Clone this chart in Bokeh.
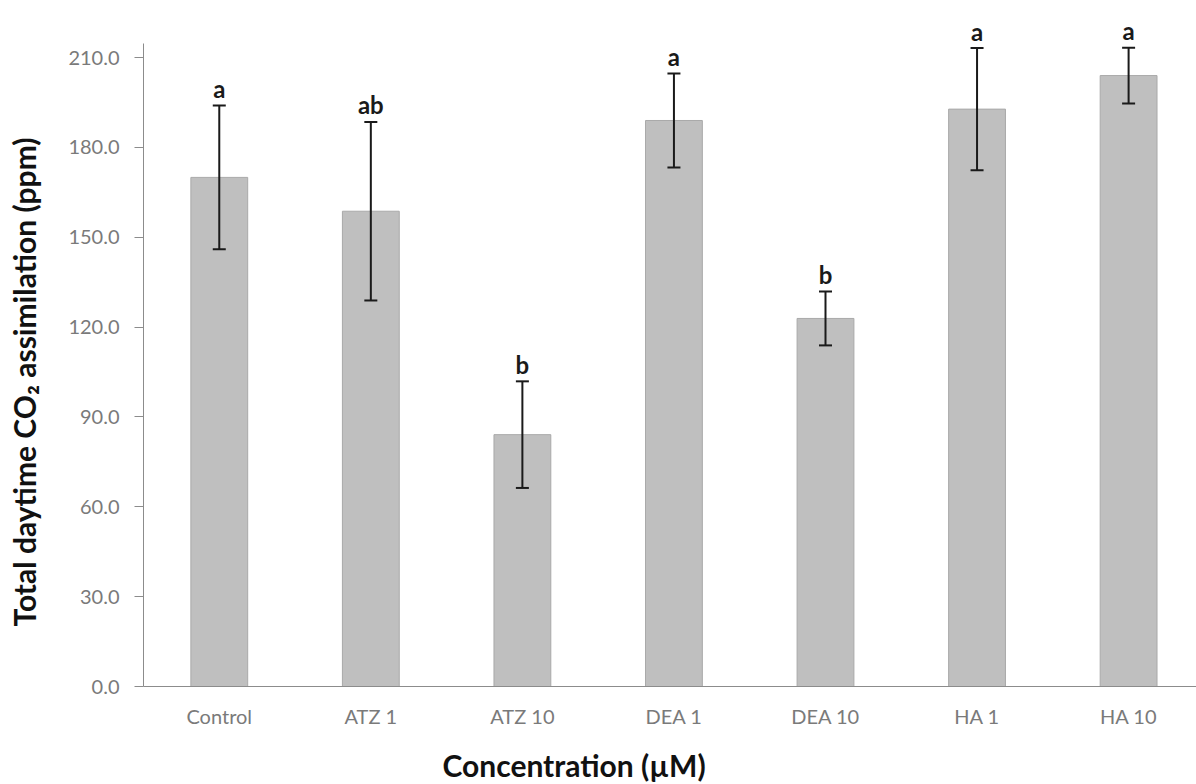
from bokeh.plotting import figure
from bokeh.models import (ColumnDataSource, Whisker, TeeHead, NumeralTickFormatter,
                          FixedTicker, Range1d, Title, LinearAxis)
from bokeh.core.properties import value
from bokeh.embed import file_html
from bokeh.resources import INLINE

categories = ["Control", "ATZ 1", "ATZ 10", "DEA 1", "DEA 10", "HA 1", "HA 10"]
means = [170.0, 158.7, 84.1, 189.0, 122.9, 192.8, 204.0]
errors = [24.0, 29.8, 17.8, 15.7, 9.0, 20.4, 9.3]
letters = ["a", "ab", "b", "a", "b", "a", "a"]
y_ticks = [0, 30, 60, 90, 120, 150, 180, 210]
axis_top = 214.7

x = [i + 0.5 for i in range(len(categories))]
upper = [m + e for m, e in zip(means, errors)]
lower = [m - e for m, e in zip(means, errors)]

src = ColumnDataSource(dict(x=x, mean=means, upper=upper, lower=lower, letter=letters))

p = figure(width=1196, height=784, output_backend="svg", toolbar_location=None,
           x_range=Range1d(0, 6.948), y_range=Range1d(0, 228.4),
           min_border_left=143, min_border_right=0, min_border_top=2,
           min_border_bottom=98)
p.outline_line_color = None
p.grid.visible = False
p.background_fill_color = "white"

p.vbar(x="x", top="mean", width=0.375, source=src, fill_color="#bfbfbf",
       line_color="#a9a9a9", line_width=1)

w = Whisker(base="x", upper="upper", lower="lower", source=src,
            line_color="#1a1a1a", line_width=2, level="overlay")
w.upper_head = TeeHead(size=13, line_color="#1a1a1a", line_width=2)
w.lower_head = TeeHead(size=13, line_color="#1a1a1a", line_width=2)
p.add_layout(w)

p.text(x="x", y="upper", text="letter", source=src, text_align="center",
       text_baseline="alphabetic", y_offset=-17, text_font=value("Lato"),
       text_font_style="bold", text_font_size="24px", text_color="#1a1a1a")

# y axis
yax = p.yaxis[0]
yax.bounds = (0, axis_top)
yax.ticker = FixedTicker(ticks=y_ticks)
yax.formatter = NumeralTickFormatter(format="0.0")
yax.axis_line_color = "#8c8c8c"
yax.major_tick_line_color = "#8c8c8c"
yax.major_tick_out = 9
yax.major_tick_in = 0
yax.minor_tick_line_color = None
yax.major_label_standoff = 15
yax.major_label_text_font = "Lato"
yax.major_label_text_font_size = "20px"
yax.major_label_text_color = "#7a7a7a"

# x axis
xax = p.xaxis[0]
xax.ticker = FixedTicker(ticks=x)
xax.major_label_overrides = {xi: c for xi, c in zip(x, categories)}
xax.axis_line_color = "#8c8c8c"
xax.major_tick_line_color = None
xax.minor_tick_line_color = None
xax.major_label_standoff = 11
xax.major_label_text_font = "Lato"
xax.major_label_text_font_size = "20px"
xax.major_label_text_color = "#7a7a7a"


def spacer(size):
    # invisible axis used only to reserve room between an axis and its title
    return LinearAxis(ticker=FixedTicker(ticks=[0.5]), major_label_overrides={0.5: ""},
                      axis_line_color=None, major_tick_out=size, major_tick_in=0,
                      major_tick_line_color=None, minor_tick_out=0,
                      minor_tick_line_color=None, major_label_standoff=0)


p.add_layout(spacer(24), "left")
ytitle = Title(text="Total daytime CO\u2082 assimilation (ppm)", align="left", offset=60,
               text_font="Lato", text_font_size="30px", text_font_style="bold",
               text_color="#111111", standoff=0)
p.add_layout(ytitle, "left")

p.add_layout(spacer(14), "below")
xtitle = Title(text="Concentration (\u00b5M)", align="left", offset=299,
               text_font="Lato", text_font_size="30px", text_font_style="bold",
               text_color="#111111", standoff=0)
p.add_layout(xtitle, "below")

open("out.html", "w").write(file_html(p, INLINE))
